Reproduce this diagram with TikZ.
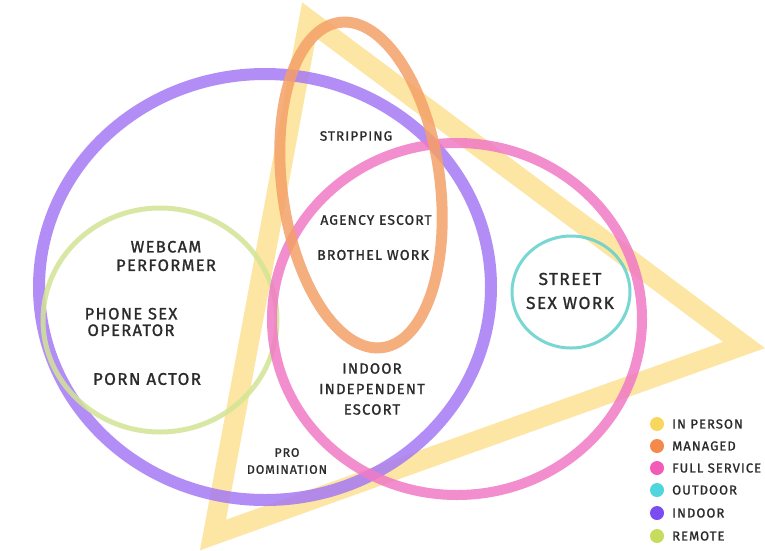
\documentclass[tikz,border=0pt]{standalone}
\usepackage{fontspec}
\setmainfont{Fira Sans}
\newfontfamily\lf{Fira Sans}[LetterSpace=8,FakeBold=1.2]
\definecolor{cyel}{HTML}{FDE39A}
\definecolor{cora}{HTML}{F4A068}
\definecolor{cpink}{HTML}{F07AC6}
\definecolor{ccyan}{HTML}{62D0CC}
\definecolor{cpur}{HTML}{A57AF4}
\definecolor{cgrn}{HTML}{D2E595}
\definecolor{lyel}{HTML}{F9D65E}
\definecolor{lora}{HTML}{F5894C}
\definecolor{lpink}{HTML}{F25CB8}
\definecolor{lcyan}{HTML}{4FD6DC}
\definecolor{lpur}{HTML}{7A4DF0}
\definecolor{lgrn}{HTML}{C6DC5C}
\definecolor{txt}{HTML}{2B2B2B}
\begin{document}
\begin{tikzpicture}[x=1pt,y=-1pt,
  ring/.style={draw=#1, opacity=0.85},
  lbl/.style={text=txt, align=center, inner sep=0pt},
  dot/.style={circle, fill=#1, inner sep=0pt, minimum size=14pt},
  legtxt/.style={text=txt, anchor=west, inner sep=0pt, font=\lf\fontsize{13}{15}\selectfont}
]
\useasboundingbox (0,0) rectangle (765,550);
\fill[white] (0,0) rectangle (765,550);
% IN PERSON triangle
\draw[cyel, line width=20pt, line join=miter, opacity=0.9] (309,20) -- (744,345) -- (213,535) -- cycle;
% INDOOR
\draw[ring=cpur, line width=12pt] (265,287) ellipse (226 and 213);
% REMOTE
\draw[ring=cgrn, line width=5pt] (160,320) ellipse (117 and 112);
% FULL SERVICE
\draw[ring=cpink, line width=10pt] (457,319) ellipse (185 and 176);
% MANAGED
\draw[ring=cora, line width=11pt, rotate around={7.5:(361,185)}] (361,185) ellipse (79 and 164);
% OUTDOOR
\draw[ring=ccyan, line width=3pt] (571,292) ellipse (59 and 56);

% labels
\node[lbl, font=\lf\fontsize{13.5}{18}\selectfont] (strip) at (356,136) {STRIPPING};
\node[lbl, font=\lf\fontsize{13.8}{18}\selectfont] (agency) at (376,220) {AGENCY ESCORT};
\node[lbl, font=\lf\fontsize{14.2}{18}\selectfont] (brothel) at (373,255) {BROTHEL WORK};
\node[lbl, font=\lf\fontsize{16.5}{18.5}\selectfont] (webcam) at (166,256) {WEBCAM\\PERFORMER};
\node[lbl, font=\lf\fontsize{16.5}{16.5}\selectfont] (phone) at (131,322) {PHONE SEX\\OPERATOR};
\node[lbl, font=\lf\fontsize{17}{18}\selectfont] (porn) at (147,379) {PORN ACTOR};
\node[lbl, font=\lf\fontsize{14.8}{20.5}\selectfont] (indep) at (372,389) {INDOOR\\INDEPENDENT\\ESCORT};
\node[lbl, font=\lf\fontsize{12.3}{17}\selectfont] (prodom) at (287,461) {PRO\\DOMINATION};
\node[lbl, font=\lf\fontsize{17.3}{24}\selectfont] (street) at (570,291) {STREET\\SEX WORK};

% legend
\node[dot=lyel] (d1) at (657,424) {};
\node[dot=lora] (d2) at (657,446) {};
\node[dot=lpink] (d3) at (657,468) {};
\node[dot=lcyan] (d4) at (657,490) {};
\node[dot=lpur] (d5) at (657,513) {};
\node[dot=lgrn] (d6) at (657,536) {};
\node[legtxt] (t1) at (672,424) {IN PERSON};
\node[legtxt] (t2) at (672,446) {MANAGED};
\node[legtxt] (t3) at (672,468) {FULL SERVICE};
\node[legtxt] (t4) at (672,490) {OUTDOOR};
\node[legtxt] (t5) at (672,513) {INDOOR};
\node[legtxt] (t6) at (672,536) {REMOTE};
\end{tikzpicture}
\end{document}
